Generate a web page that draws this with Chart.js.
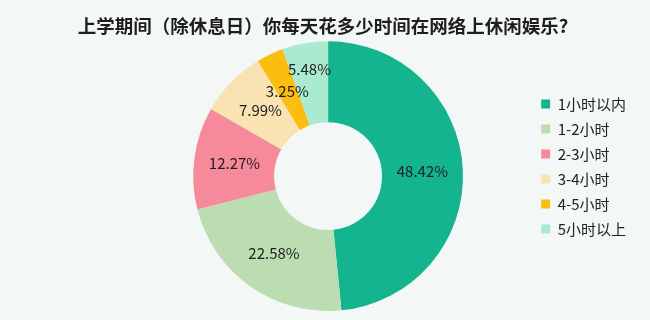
<!DOCTYPE html>
<html>
<head>
<meta charset="utf-8">
<script src="https://cdn.jsdelivr.net/npm/chart.js@4/dist/chart.umd.min.js"></script>
<style>
  html, body { margin: 0; padding: 0; background: #f3f8f6; }
  #wrap { width: 650px; height: 320px; }
</style>
</head>
<body>
<div id="wrap"><canvas id="timeChart" width="650" height="320"></canvas></div>
<script>
const titleText = '上学期间（除休息日）你每天花多少时间在网络上休闲娱乐?';
const categories = ['1小时以内', '1-2小时', '2-3小时', '3-4小时', '4-5小时', '5小时以上'];
const shares = [48.42, 22.58, 12.27, 7.99, 3.25, 5.48];
const sliceColors = ['#14b48f', '#bcdcb2', '#f78a9a', '#fae3b3', '#fbbd0f', '#a9ead0'];
// 겹침 방지용으로 바깥쪽으로 밀어내는 라벨 (px)
const labelPush = [0, 0, 0, 0, 0, 14];

const FONT = '"Noto Sans CJK SC", "Noto Sans", sans-serif';

// 조각 가운데에 퍼센트 라벨 그리기
const sliceLabels = {
    id: 'sliceLabels',
    afterDatasetsDraw(chart) {
        const { ctx } = chart;
        const meta = chart.getDatasetMeta(0);
        ctx.save();
        ctx.font = `15px ${FONT}`;
        ctx.fillStyle = '#1e1e1e';
        ctx.textAlign = 'center';
        ctx.textBaseline = 'middle';
        meta.data.forEach((arc, i) => {
            const mid = (arc.startAngle + arc.endAngle) / 2;
            const r = (arc.innerRadius + arc.outerRadius) / 2 + labelPush[i];
            const x = arc.x + Math.cos(mid) * r;
            const y = arc.y + Math.sin(mid) * r;
            ctx.fillText(shares[i].toFixed(2) + '%', x, y);
        });
        ctx.restore();
    }
};

// 범례 세로 위치, 제목 가로 폭 보정
const layoutNudge = {
    id: 'layoutNudge',
    afterLayout(chart) {
        const lg = chart.legend;
        if (lg) {
            lg.top += 11;
            lg.bottom += 11;
        }
        const tt = chart.titleBlock;
        if (tt) {
            tt.left = 0;
            tt.right = chart.width - 4;
        }
    }
};

new Chart(document.getElementById('timeChart'), {
    type: 'doughnut',
    data: {
        labels: categories,
        datasets: [{
            data: shares,
            backgroundColor: sliceColors,
            borderWidth: 0
        }]
    },
    options: {
        responsive: false,
        animation: false,
        cutout: '40%',
        layout: { padding: { left: 125, right: 14, top: 0, bottom: 9 } },
        plugins: {
            title: {
                display: true,
                text: titleText,
                fullSize: false,
                color: '#1e1e1e',
                font: { family: FONT, size: 18.5, weight: 'bold' },
                padding: { top: 15, bottom: 4 }
            },
            legend: {
                position: 'right',
                labels: {
                    boxWidth: 9,
                    boxHeight: 9,
                    padding: 10,
                    color: '#222',
                    font: { family: FONT, size: 15 }
                }
            },
            tooltip: { enabled: false }
        }
    },
    plugins: [sliceLabels, layoutNudge]
});
</script>
</body>
</html>
